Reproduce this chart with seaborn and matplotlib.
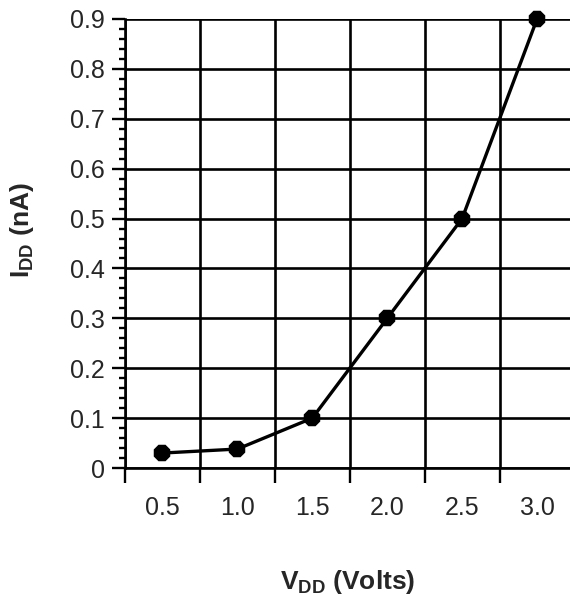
import matplotlib
matplotlib.use("Agg")
import matplotlib.pyplot as plt
import seaborn as sns
import pandas as pd
import numpy as np

# values
vdd_labels = ['0.5', '1.0', '1.5', '2.0', '2.5', '3.0']
idd_values = [0.03, 0.038, 0.1, 0.3, 0.5, 0.9]
y_ticks = [0, 0.1, 0.2, 0.3, 0.4, 0.5, 0.6, 0.7, 0.8, 0.9]
y_tick_labels = ['0', '0.1', '0.2', '0.3', '0.4', '0.5', '0.6', '0.7', '0.8', '0.9']

df = pd.DataFrame({'vdd': vdd_labels, 'idd': idd_values})

sns.set_style('white')
plt.rcParams['font.family'] = ['Liberation Sans', 'DejaVu Sans']
plt.rcParams['mathtext.fontset'] = 'custom'
plt.rcParams['mathtext.rm'] = 'Liberation Sans'
plt.rcParams['mathtext.bf'] = 'Liberation Sans:bold'

fig = plt.figure(figsize=(5.7, 5.96), dpi=100)
ax = fig.add_axes([125 / 570, 1 - 468 / 596, 445 / 570, (468 - 19) / 596])

sns.pointplot(data=df, x='vdd', y='idd', color='black', markers='8',
              markersize=11, linewidth=2.4, errorbar=None, ax=ax)
for ln in ax.lines:
    ln.set_clip_on(False)
    ln.set_zorder(5)

n = len(vdd_labels)
ax.set_xlim(-0.5, n - 0.56)
ax.set_ylim(0, 0.9)

# gridlines sit on category boundaries
ax.set_xticks(np.arange(n))
ax.set_xticklabels(vdd_labels)
ax.set_xticks(np.arange(n) - 0.5, minor=True)
ax.set_yticks(y_ticks)
ax.set_yticklabels(y_tick_labels)
ax.set_yticks(np.arange(0, 0.9001, 0.02), minor=True)

ax.grid(False)
ax.xaxis.grid(True, which='minor', color='black', linewidth=1.9)
ax.yaxis.grid(True, which='major', color='black', linewidth=1.9)
ax.set_axisbelow(True)

ax.tick_params(axis='x', which='major', length=0, pad=20, labelsize=18)
ax.tick_params(axis='x', which='minor', length=11, width=1.7, color='black', direction='out', bottom=True)
ax.tick_params(axis='y', which='major', length=9.5, width=1.7, color='black', direction='out', left=True, pad=5, labelsize=18)
ax.tick_params(axis='y', which='minor', length=4.5, width=1.7, color='black', direction='out', left=True)

for side in ['top', 'right']:
    ax.spines[side].set_visible(False)
for side in ['left', 'bottom']:
    ax.spines[side].set_color('black')
    ax.spines[side].set_linewidth(1.9)

ax.set_xlabel(r'$\mathbf{V_{DD}}$ (Volts)', fontsize=19, fontweight='bold')
ax.set_ylabel(r'$\mathbf{I_{DD}}$ (nA)', fontsize=19, fontweight='bold')
ax.xaxis.set_label_coords(0.5, -0.222)
ax.yaxis.set_label_coords(-0.2, 0.53)

plt.savefig('out.png', dpi=100)
